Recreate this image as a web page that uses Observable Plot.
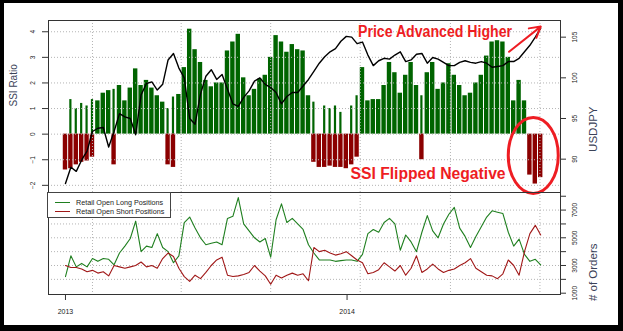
<!DOCTYPE html>
<html>
<head>
<meta charset="utf-8">
<script src="https://cdn.jsdelivr.net/npm/d3@7"></script>
<script src="https://cdn.jsdelivr.net/npm/@observablehq/plot@0.6"></script>
<style>
  html, body { margin: 0; padding: 0; background: #fff; }
  #wrap { position: relative; width: 623px; height: 331px; overflow: hidden; background: #fff;
          font-family: "Liberation Sans", Arial, sans-serif; }
  #wrap > svg { position: absolute; left: 0; top: 0; }
  #border { position: absolute; left: 0; top: 0; width: 623px; height: 331px; box-sizing: border-box;
            border-style: solid; border-color: #000; border-width: 3px 5px 6px 4px; pointer-events: none; }
  #legend { position: absolute; left: 47px; top: 192px; width: 124px; height: 26px; box-sizing: border-box;
            border: 1px solid #444; background: #fff; font-size: 7.2px; color: #222; }
  #legend .row { position: absolute; left: 0; height: 9px; width: 100%; }
  #legend .swatch { position: absolute; left: 7px; top: 4px; width: 15px; height: 0; border-top: 1.2px solid; }
  #legend .lbl { position: absolute; left: 28px; top: 0; line-height: 9px; white-space: nowrap; }
</style>
</head>
<body>
<div id="wrap"></div>
<script>
// ---- data (weekly readings starting at the first week of 2013) ----
const startDate = "2013-01-01";
const ssiPositive = [
  0, 1.35, 1.0, 1.2, 1.1, 1.35, 1.3, 1.6, 1.7, 1.75,
  1.9, 1.3, 1.8, 2.55, 1.9, 2.1, 1.8, 1.5, 1.25, 1.0,
  1.45, 1.55, 2.6, 4.1, 3.3, 2.8, 2.1, 1.85, 2.0, 2.0,
  3.25, 3.6, 3.9, 2.2, 1.5, 1.75, 2.15, 2.3, 3.0, 3.85,
  3.6, 3.2, 3.5, 3.3, 3.25, 1.5, 1.25, 0, 1.1, 1.0,
  1.1, 0.85, 0, 1.1, 1.5, 2.6, 1.3, 1.35, 1.35, 1.9,
  2.8, 2.4, 1.6, 2.3, 2.8, 1.9, 1.5, 2.4, 2.8, 1.75,
  2.0, 2.75, 2.3, 1.9, 1.5, 1.6, 2.0, 2.3, 3.05, 3.6,
  3.65, 3.6, 3.0, 1.3, 2.1, 1.3, 0, 0, 0
];
const ssiNegative = [
  -1.4, -1.35, -1.2, -1.1, -1.05, -0.9, 0, 0, 0, -1.2,
  0, 0, 0, 0, 0, 0, 0, 0, 0, -1.2,
  -1.3, 0, 0, 0, 0, 0, 0, 0, 0, 0,
  0, 0, 0, 0, 0, 0, 0, 0, 0, 0,
  0, 0, 0, 0, 0, 0, -1.1, -1.3, -1.3, -1.25,
  -1.3, -1.3, -1.35, -1.2, -0.9, 0, 0, 0, 0, 0,
  0, 0, 0, 0, 0, 0, -1.0, 0, 0, 0,
  0, 0, 0, 0, 0, 0, 0, 0, 0, 0,
  0, 0, 0, 0, 0, 0, -1.6, -1.95, -1.7
];
const usdjpy = [
  87.0, 89.0, 88.5, 89.9, 91.0, 93.4, 93.8, 93.9, 91.5, 93.4,
  95.6, 95.2, 95.0, 93.0, 97.9, 99.3, 99.5, 98.5, 99.2, 102.2,
  103.0, 101.2, 100.0, 95.0, 94.3, 98.0, 100.2, 101.0, 99.8, 100.4,
  98.6, 96.8, 96.5, 97.6, 98.4, 99.6, 100.0, 99.2, 98.8, 98.2,
  96.8, 97.7, 98.2, 98.2, 99.0, 99.8, 100.8, 101.8, 102.6, 103.2,
  103.6, 104.5, 105.1, 105.0, 104.2, 104.4, 102.8, 101.5, 102.1, 102.4,
  102.3, 102.8, 103.2, 102.0, 102.2, 102.9, 103.0, 101.8, 102.5, 102.3,
  101.9, 101.5, 101.5, 101.9, 102.1, 101.9, 101.8, 102.0, 101.8, 101.3,
  101.4, 101.5, 102.0, 102.0, 102.4, 103.2, 104.0, 105.0, 106.1
];
const longPositions = [
  2200, 3700, 2900, 3150, 2900, 3500, 3300, 3500, 3450, 3050,
  3900, 4400, 4950, 6200, 4000, 4400, 4300, 5300, 4300, 4000,
  3200, 3700, 6100, 6500, 5700, 5000, 4500, 4600, 4700, 4500,
  6400, 6550, 7900, 6000, 5500, 5000, 4700, 4950, 3600, 6300,
  7450, 6100, 6400, 6000, 5600, 4500, 3900, 3400, 3400, 3400,
  3300, 3350, 3400, 3400, 3300, 3800, 5300, 5600, 5400, 6100,
  6400, 6000, 4100, 5200, 4700, 4000, 5400, 6600, 5500, 5000,
  6000, 6700, 7200, 5700, 5100, 4300, 5100, 5800, 6500, 6950,
  6850, 6750, 5400, 4400, 4900, 3800, 3300, 3450, 3050
];
const shortPositions = [
  3000, 2850, 2850, 2750, 2550, 2650, 2450, 2550, 2250, 3000,
  2900, 2800, 2900, 3000, 3250, 2900, 3000, 2800, 3500, 3900,
  3650, 2800, 2200, 1850, 2300, 2050, 2500, 3000, 3400, 3600,
  2300, 2200, 2250, 2350, 2500, 3000, 2600, 2250, 1650, 2300,
  2100, 2300, 2450, 2300, 2400, 1900, 4300, 4000, 4100, 3900,
  3750, 3850, 4000, 3700, 3400, 3200, 2400, 2500, 2700, 3200,
  2900, 2600, 3000, 2300, 2800, 3700, 2500, 2750, 3100, 2750,
  2500, 2650, 2750, 3000, 3200, 3500, 2800, 2550, 2300, 2250,
  2050, 2400, 3400, 3000, 2300, 4000, 5300, 5900, 5200
];
const ssiTicks = [-2, -1, 0, 1, 2, 3, 4];
const priceTicks = [90, 95, 100, 105];
const orderTicks = [1000, 2000, 3000, 4000, 5000, 6000, 7000, 8000];
const orderLabels = [1000, 3000, 5000, 7000];
const orderGrid = [2000, 3000, 4000, 5000, 6000, 7000];
const yearTicks = ["2013-01-01", "2014-01-01"];
const gridDates = ["2013-02-05", "2013-05-31", "2013-09-24", "2014-01-18", "2014-05-15", "2014-09-08"];
const legendLabels = ["Retail Open Long Positions", "Retail Open Short Positions"];
const priceNote = [{date: "2014-04-25", value: 105.65, label: "Price Advanced Higher"}];
const flipNote = [{date: "2014-04-16", value: -1.565, label: "SSI Flipped Negative"}];
const priceArrow = [{d1: "2014-07-30", v1: 103.2, d2: "2014-09-09", v2: 106.3}];
const flipCircle = {date: "2014-08-31", value: -0.85};

// ---- styling ----
const font = '"Liberation Sans", Arial, sans-serif';
const greenBar = "#006400", redBar = "#8b0000";
const longColor = "#1f7f1f", shortColor = "#a01818";
const noteRed = "#ee1d23";
const titleColor = "#3b4258";
const gridStyle = {stroke: "#b4b4b4", strokeOpacity: 1, strokeDasharray: "1,2", strokeWidth: 1};

const utc = s => new Date(s);
const dates = ssiPositive.map((_, i) => d3.utcDay.offset(utc(startDate), 7 * i));
const rows = dates.map((date, i) => ({
  date, x1: d3.utcHour.offset(date, -84), x2: d3.utcHour.offset(date, 84),
  pos: ssiPositive[i], neg: ssiNegative[i], price: usdjpy[i],
  long: longPositions[i], short: shortPositions[i]
}));
const xDomain = [utc("2012-12-10"), utc("2014-10-04T16:00:00Z")];
const gridD = gridDates.map(utc);

const base = {
  width: 623, height: 331, marginLeft: 48, marginRight: 63,
  style: {background: "none", fontFamily: font, fontSize: "7px", color: "#222", overflow: "visible"}
};

// ---- top panel: SSI bars ----
const plotA = Plot.plot({
  ...base, marginTop: 20, marginBottom: 139,
  x: {type: "utc", domain: xDomain, axis: null},
  y: {domain: [-2.28, 4.44]},
  marks: [
    Plot.rect(rows.filter(d => d.pos > 0 && d.neg === 0), {x1: "x1", x2: "x2", y1: 0, y2: "pos", fill: greenBar, insetLeft: 0.5, insetRight: 0.5}),
    Plot.rect(rows.filter(d => d.pos > 0 && d.neg < 0), {x1: "x1", x2: "x2", y1: 0, y2: "pos", fill: greenBar, insetLeft: 1.6, insetRight: 1.6}),
    Plot.rect(rows.filter(d => d.neg < 0), {x1: "x1", x2: "x2", y1: 0, y2: "neg", fill: redBar, insetLeft: 0.5, insetRight: 0.5}),
    Plot.gridY(ssiTicks, gridStyle),
    Plot.gridX(gridD, gridStyle),
    Plot.frame({stroke: "#333"}),
    Plot.axisY(ssiTicks, {anchor: "left", label: null, tickSize: 6, tickPadding: 7.5, tickRotate: -90, lineAnchor: "bottom", fontSize: 6.5, stroke: "#333"}),
    Plot.text(["SSI Ratio"], {frameAnchor: "left", dx: -35, rotate: -90, fontSize: 10, fill: titleColor}),
    Plot.text(flipNote, {x: d => utc(d.date), y: "value", text: "label", fill: noteRed, fontSize: 16, fontWeight: "bold"})
  ]
});

// ---- top panel: USDJPY line (right axis) ----
const plotB = Plot.plot({
  ...base, marginTop: 20, marginBottom: 139,
  x: {type: "utc", domain: xDomain, axis: null},
  y: {domain: [85.9, 107.05]},
  marks: [
    Plot.line(rows, {x: "date", y: "price", stroke: "#000", strokeWidth: 1.4}),
    Plot.axisY(priceTicks, {anchor: "right", label: null, tickSize: 5, tickPadding: 6.5, tickRotate: -90, lineAnchor: "top", fontSize: 6.5, stroke: "#333"}),
    Plot.text(["USDJPY"], {frameAnchor: "right", dx: 33, rotate: -90, fontSize: 11.5, fill: titleColor}),
    Plot.text(priceNote, {x: d => utc(d.date), y: "value", text: "label", fill: noteRed, fontSize: 16, fontWeight: "bold"}),
    Plot.arrow(priceArrow, {x1: d => utc(d.d1), y1: "v1", x2: d => utc(d.d2), y2: "v2", stroke: noteRed, strokeWidth: 2, headLength: 9})
  ]
});

// ---- bottom panel: open positions ----
const plotC = Plot.plot({
  ...base, marginTop: 192, marginBottom: 37,
  x: {type: "utc", domain: xDomain},
  y: {domain: [906, 8270]},
  marks: [
    Plot.gridY(orderGrid, gridStyle),
    Plot.gridX(gridD, gridStyle),
    Plot.line(rows, {x: "date", y: "long", stroke: longColor, strokeWidth: 1.1}),
    Plot.line(rows, {x: "date", y: "short", stroke: shortColor, strokeWidth: 1.1}),
    Plot.frame({stroke: "#333"}),
    Plot.axisY(orderTicks, {anchor: "right", label: null, tickSize: 5, tickPadding: 6.5, tickRotate: -90, lineAnchor: "top", fontSize: 6.5, stroke: "#333",
      tickFormat: d => orderLabels.includes(d) ? String(d) : ""}),
    Plot.axisX(yearTicks.map(utc), {anchor: "bottom", label: null, tickSize: 6, tickPadding: 8.3, fontSize: 7, stroke: "#333", tickFormat: d3.utcFormat("%Y")}),
    Plot.text(["# of Orders"], {frameAnchor: "right", dx: 33, rotate: -90, fontSize: 11.5, fill: titleColor})
  ]
});

const wrap = document.getElementById("wrap");
wrap.append(plotA, plotB, plotC);

// condensed annotation lettering
const fitText = (svg, label, width) => d3.select(svg).selectAll("text")
  .filter(function () { return this.textContent === label; })
  .attr("textLength", width).attr("lengthAdjust", "spacingAndGlyphs");
fitText(plotA, flipNote[0].label, 155);
fitText(plotB, priceNote[0].label, 154);

// ellipse around the flipped SSI, placed with the top panel's scales
d3.select(plotB).append("ellipse")
  .attr("cx", plotA.scale("x").apply(utc(flipCircle.date)))
  .attr("cy", plotA.scale("y").apply(flipCircle.value))
  .attr("rx", 25).attr("ry", 38)
  .attr("fill", "none").attr("stroke", noteRed).attr("stroke-width", 3);

// legend box
const legend = document.createElement("div");
legend.id = "legend";
[longColor, shortColor].forEach((c, i) => {
  const row = document.createElement("div");
  row.className = "row";
  row.style.top = (4.5 + i * 9.4) + "px";
  const sw = document.createElement("span");
  sw.className = "swatch"; sw.style.borderTopColor = c;
  const lb = document.createElement("span");
  lb.className = "lbl"; lb.textContent = legendLabels[i];
  row.append(sw, lb);
  legend.append(row);
});
wrap.append(legend);

const border = document.createElement("div");
border.id = "border";
wrap.append(border);
</script>
</body>
</html>
